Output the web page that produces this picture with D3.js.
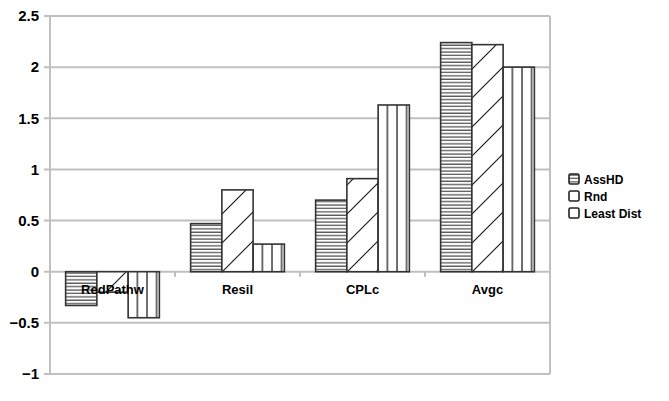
<!DOCTYPE html>
<html>
<head>
<meta charset="utf-8">
<script src="https://cdn.jsdelivr.net/npm/d3@7"></script>
<style>
  body { margin: 0; background: #fff; }
  svg { font-family: "Liberation Sans", Arial, sans-serif; }
</style>
</head>
<body>
<div id="chart"></div>
<script>
// data
const categories = ['RedPathw', 'Resil', 'CPLc', 'Avgc'];
const seriesNames = ['AssHD', 'Rnd', 'Least Dist'];
const assHD = [-0.33, 0.47, 0.70, 2.24];
const rnd = [-0.20, 0.80, 0.91, 2.22];
const leastDist = [-0.45, 0.27, 1.63, 2.00];
const yTicks = [-1, -0.5, 0, 0.5, 1, 1.5, 2, 2.5];

const series = [assHD, rnd, leastDist];
const patterns = ['hatch-h', 'hatch-d', 'hatch-v'];

const width = 669, height = 401;
const margin = { top: 16, right: 119, bottom: 27, left: 50 };

const svg = d3.select('#chart').append('svg')
  .attr('width', width)
  .attr('height', height);

// hatch patterns
const defs = svg.append('defs');
const ph = defs.append('pattern').attr('id', 'hatch-h')
  .attr('patternUnits', 'userSpaceOnUse').attr('width', 8).attr('height', 3.4);
ph.append('rect').attr('width', 8).attr('height', 3.4).attr('fill', '#fff');
ph.append('line').attr('x1', 0).attr('x2', 8).attr('y1', 1).attr('y2', 1)
  .attr('stroke', '#222').attr('stroke-width', 1);

const pd = defs.append('pattern').attr('id', 'hatch-d')
  .attr('patternUnits', 'userSpaceOnUse').attr('width', 29).attr('height', 29);
pd.append('rect').attr('width', 29).attr('height', 29).attr('fill', '#fff');
pd.append('line').attr('x1', 0).attr('y1', 29).attr('x2', 29).attr('y2', 0)
  .attr('stroke', '#111').attr('stroke-width', 1.1);
pd.append('line').attr('x1', -2).attr('y1', 2).attr('x2', 2).attr('y2', -2)
  .attr('stroke', '#111').attr('stroke-width', 1.1);
pd.append('line').attr('x1', 27).attr('y1', 31).attr('x2', 31).attr('y2', 27)
  .attr('stroke', '#111').attr('stroke-width', 1.1);

const pv = defs.append('pattern').attr('id', 'hatch-v')
  .attr('patternUnits', 'userSpaceOnUse').attr('width', 9.6).attr('height', 8);
pv.append('rect').attr('width', 9.6).attr('height', 8).attr('fill', '#fff');
pv.append('line').attr('x1', 1).attr('x2', 1).attr('y1', 0).attr('y2', 8)
  .attr('stroke', '#222').attr('stroke-width', 1.3);

const x = d3.scaleBand()
  .domain(categories)
  .range([margin.left, width - margin.right]);

const x1 = d3.scaleBand()
  .domain(d3.range(series.length))
  .range([0, x.bandwidth()])
  .paddingOuter(0.5);

const y = d3.scaleLinear()
  .domain([-1, 2.5])
  .range([height - margin.bottom, margin.top]);

// gridlines
svg.append('g')
  .selectAll('line')
  .data(yTicks)
  .join('line')
  .attr('x1', margin.left - 6)
  .attr('x2', width - margin.right)
  .attr('y1', d => y(d))
  .attr('y2', d => y(d))
  .attr('stroke', '#c0c0c0')
  .attr('stroke-width', 2);

// frame: left axis and right edge
svg.append('line')
  .attr('x1', margin.left).attr('x2', margin.left)
  .attr('y1', y(2.5)).attr('y2', y(-1))
  .attr('stroke', '#c0c0c0').attr('stroke-width', 2);
svg.append('line')
  .attr('x1', width - margin.right).attr('x2', width - margin.right)
  .attr('y1', y(2.5)).attr('y2', y(-1))
  .attr('stroke', '#c0c0c0').attr('stroke-width', 2);

// y axis labels
const yAxis = d3.axisLeft(y)
  .tickValues(yTicks)
  .tickSize(0)
  .tickPadding(11)
  .tickFormat(d3.format('~g'));

svg.append('g')
  .attr('transform', `translate(${margin.left}, 0)`)
  .call(yAxis)
  .call(g => g.select('.domain').remove())
  .call(g => g.selectAll('text')
    .attr('fill', '#000')
    .style('font-size', '15px')
    .style('font-weight', 'bold')
    .style('font-family', '"Liberation Sans", Arial, sans-serif'));

// category ticks on the zero line
svg.append('g')
  .selectAll('line')
  .data(categories.concat(['end']))
  .join('line')
  .attr('x1', (d, i) => margin.left + i * x.step())
  .attr('x2', (d, i) => margin.left + i * x.step())
  .attr('y1', y(0))
  .attr('y2', y(0) + 5)
  .attr('stroke', '#c0c0c0')
  .attr('stroke-width', 2);

// bars
const groups = svg.append('g')
  .selectAll('g')
  .data(categories)
  .join('g')
  .attr('transform', d => `translate(${x(d)}, 0)`);

groups.selectAll('rect')
  .data((d, i) => series.map((s, j) => ({ j: j, v: s[i] })))
  .join('rect')
  .attr('x', d => x1(d.j))
  .attr('width', x1.bandwidth())
  .attr('y', d => y(Math.max(0, d.v)))
  .attr('height', d => Math.abs(y(d.v) - y(0)))
  .attr('fill', d => `url(#${patterns[d.j]})`)
  .attr('stroke', '#333')
  .attr('stroke-width', 1.6);

// category labels
svg.append('g')
  .selectAll('text')
  .data(categories)
  .join('text')
  .attr('x', d => x(d) + x.bandwidth() / 2)
  .attr('y', y(0) + 22)
  .attr('text-anchor', 'middle')
  .style('font-size', '13px')
  .style('font-weight', 'bold')
  .text(d => d);

// legend
const legend = svg.append('g')
  .attr('transform', 'translate(569, 174)');

const item = legend.selectAll('g')
  .data(seriesNames)
  .join('g')
  .attr('transform', (d, i) => `translate(0, ${i * 17})`);

item.append('rect')
  .attr('width', 10)
  .attr('height', 10)
  .attr('rx', 1.5)
  .attr('fill', (d, i) => i === 0 ? 'url(#hatch-h)' : '#fff')
  .attr('stroke', '#222')
  .attr('stroke-width', 1.6);

item.append('text')
  .attr('x', 15)
  .attr('y', 10)
  .style('font-size', '12px')
  .style('font-weight', 'bold')
  .text(d => d);
</script>
</body>
</html>
